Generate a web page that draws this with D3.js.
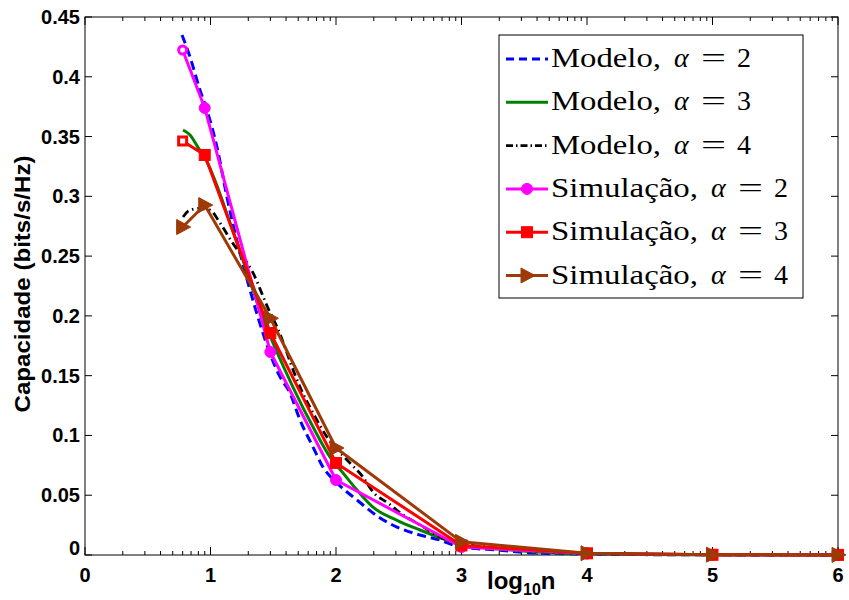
<!DOCTYPE html>
<html><head><meta charset="utf-8">
<script src="https://cdnjs.cloudflare.com/ajax/libs/d3/7.8.5/d3.min.js"></script>
<style>body{margin:0;background:#fff}</style>
</head><body>
<svg id="chart" width="849" height="600"></svg>
<script>
// ---- data (x values are log10 n) ----
const xTickLabels = ["0","1","2","3","4","5","6"];
const yTickLabels = ["0","0.05","0.1","0.15","0.2","0.25","0.3","0.35","0.4","0.45"];

const modelA2X = [0.773,0.837,0.916,0.972,1.052,1.131,1.315,1.554,1.633,1.713,1.817,1.896,2.008,2.167,2.351,2.486,2.669,2.829,2.988,3.307,3.57,4,4.5,5,6];
const modelA2Y = [0.435,0.4165,0.389,0.372,0.341,0.2994,0.2216,0.149,0.1355,0.113,0.0903,0.0736,0.0602,0.046,0.031,0.0234,0.0167,0.0125,0.0067,0.004,0.0017,0.0008,0.0003,0.0001,0];

const modelA3X = [0.781,0.837,0.900,0.956,1.195,1.418,1.657,1.817,1.952,2.056,2.167,2.295,2.486,2.669,2.884,3.012,3.3,3.6,4,4.5,5,6];
const modelA3Y = [0.3555,0.3513,0.341,0.332,0.266,0.198,0.1405,0.107,0.082,0.0686,0.0544,0.040,0.029,0.0209,0.0125,0.0084,0.005,0.0025,0.001,0.0004,0.0002,0];

const modelA4X = [0.781,0.837,0.916,0.996,1.076,1.171,1.339,1.458,1.530,1.713,1.817,1.928,2.088,2.215,2.295,2.414,2.534,2.645,2.829,2.964,3.3,3.6,4,4.5,5,6];
const modelA4Y = [0.2827,0.2886,0.290,0.2886,0.2777,0.2618,0.2359,0.2066,0.1907,0.1405,0.1188,0.0987,0.0795,0.0652,0.0527,0.0435,0.0335,0.0268,0.0151,0.010,0.006,0.003,0.0012,0.0005,0.0002,0];

const simX = [0.778,0.954,1.477,2,3,4,5,6];
const simA2 = [0.4224,0.3739,0.1698,0.0627,0.0067,0.0012,0.0002,0.0001];
const simA3 = [0.3463,0.3346,0.1857,0.0770,0.0080,0.0014,0.0002,0.0001];
const simA4 = [0.2743,0.2927,0.1980,0.0895,0.0110,0.0015,0.0003,0.0001];

const legendLabels = ["Modelo,","Modelo,","Modelo,","Simulação,","Simulação,","Simulação,"];
const legendAlpha = ["2","3","4","2","3","4"];

// ---- layout ----
const svg = d3.select("#chart");
const L=85, R=838, T=17, B=555;
const x = d3.scaleLinear().domain([0,6]).range([L,R]);
const y = d3.scaleLinear().domain([0,0.45]).range([B,T]);

svg.append("rect").attr("x",L).attr("y",T).attr("width",R-L).attr("height",B-T)
  .attr("fill","none").attr("stroke","#000").attr("stroke-width",1);

const minor = [];
for (let d=0; d<6; d++) for (let k=2;k<=9;k++) minor.push(d+Math.log10(k));
const tg = svg.append("g");
xTickLabels.forEach((t,i)=>{
  tg.append("line").attr("x1",x(i)).attr("x2",x(i)).attr("y1",B).attr("y2",B-8).attr("stroke","#000");
  tg.append("line").attr("x1",x(i)).attr("x2",x(i)).attr("y1",T).attr("y2",T+8).attr("stroke","#000");
});
minor.forEach(v=>{
  tg.append("line").attr("x1",x(v)).attr("x2",x(v)).attr("y1",B).attr("y2",B-4).attr("stroke","#000");
  tg.append("line").attr("x1",x(v)).attr("x2",x(v)).attr("y1",T).attr("y2",T+4).attr("stroke","#000");
});
yTickLabels.forEach((t)=>{
  const v=+t;
  tg.append("line").attr("x1",L).attr("x2",L+7).attr("y1",y(v)).attr("y2",y(v)).attr("stroke","#000");
  tg.append("line").attr("x1",R).attr("x2",R-7).attr("y1",y(v)).attr("y2",y(v)).attr("stroke","#000");
});

const tickFont = "'Liberation Sans', Arial, sans-serif";
xTickLabels.forEach((t,i)=>{
  svg.append("text").attr("x",x(i)).attr("y",582).attr("text-anchor","middle")
    .attr("font-family",tickFont).attr("font-weight","bold").attr("font-size",20).text(t);
});
yTickLabels.forEach((t,i)=>{
  svg.append("text").attr("x",80).attr("y",y(+t)+ (i===0?0:7)).attr("text-anchor","end")
    .attr("font-family",tickFont).attr("font-weight","bold").attr("font-size",20).text(t);
});

const xl = svg.append("text").attr("x",487).attr("y",589)
  .attr("font-family",tickFont).attr("font-weight","bold").attr("font-size",24);
xl.append("tspan").text("log");
xl.append("tspan").attr("dy",6).attr("font-size",16).text("10");
xl.append("tspan").attr("dy",-6).text("n");

svg.append("text").attr("transform","translate(30,284) rotate(-90)").attr("text-anchor","middle")
  .attr("font-family",tickFont).attr("font-weight","bold").attr("font-size",22)
  .attr("textLength",257).attr("lengthAdjust","spacingAndGlyphs")
  .text("Capacidade (bits/s/Hz)");

const plot = svg.append("g");
const lineGen = (xs,ys)=> d3.line().x((d,i)=>x(xs[i])).y((d,i)=>y(ys[i]))(ys);
const lineSmooth = (xs,ys)=> d3.line().curve(d3.curveMonotoneX).x((d,i)=>x(xs[i])).y((d,i)=>y(ys[i]))(ys);

const series = [
  {type:"model", xs:modelA2X, ys:modelA2Y, color:"#0000ff", w:3, dash:"9,5"},
  {type:"model", xs:modelA3X, ys:modelA3Y, color:"#008000", w:3, dash:null},
  {type:"model", xs:modelA4X, ys:modelA4Y, color:"#000000", w:2.8, dash:"8,4,1.5,4"},
  {type:"sim", xs:simX, ys:simA2, color:"#ff00ff", w:3, marker:"circle"},
  {type:"sim", xs:simX, ys:simA3, color:"#ff0000", w:3, marker:"square"},
  {type:"sim", xs:simX, ys:simA4, color:"#9e3a06", w:3, marker:"triangle"}
];

function drawMarker(g, kind, cx, cy, color, hollow){
  if(kind==="circle"){
    g.append("circle").attr("cx",cx).attr("cy",cy).attr("r",hollow?4:5.5)
      .attr("fill",hollow?"#fff":color).attr("stroke",color).attr("stroke-width",hollow?3:1);
  } else if(kind==="square"){
    const s = hollow?8:11;
    g.append("rect").attr("x",cx-s/2).attr("y",cy-s/2).attr("width",s).attr("height",s)
      .attr("fill",hollow?"#fff":color).attr("stroke",color).attr("stroke-width",hollow?3:1);
  } else {
    g.append("path").attr("d",`M${cx-6},${cy-7.5}L${cx+8},${cy}L${cx-6},${cy+7.5}Z`)
      .attr("fill",color).attr("stroke",color).attr("stroke-width",1);
  }
}

series.forEach(s=>{
  const p = plot.append("path")
    .attr("d", s.type==="model"? lineSmooth(s.xs,s.ys) : lineGen(s.xs,s.ys))
    .attr("fill","none").attr("stroke",s.color).attr("stroke-width",s.w)
    .attr("stroke-linejoin","round");
  if(s.dash) p.attr("stroke-dasharray",s.dash);
});
series.filter(s=>s.type==="sim").forEach(s=>{
  s.xs.forEach((xv,i)=> drawMarker(plot, s.marker, x(xv), y(s.ys[i]), s.color, i===0 && s.marker!=="triangle"));
});

// legend
const lg = svg.append("g");
lg.append("rect").attr("x",499).attr("y",35).attr("width",304).attr("height",263)
  .attr("fill","#fff").attr("stroke","#000").attr("stroke-width",1);
const serifFont = "'Liberation Serif','DejaVu Serif',serif";
series.forEach((s,i)=>{
  const cy = 59 + i*43.3;
  const l = lg.append("line").attr("x1",506).attr("x2",548).attr("y1",cy).attr("y2",cy)
    .attr("stroke",s.color).attr("stroke-width",s.w);
  if(s.dash) l.attr("stroke-dasharray", s.dash==="9,5"?"8,5":"7,3,1.5,3");
  if(s.type==="sim") drawMarker(lg, s.marker, 527, cy, s.color, false);
  const isSim = s.type==="sim";
  const labW = isSim ? 147 : 110;
  const by = cy + 8;
  lg.append("text").attr("x",551).attr("y",by).attr("font-family",serifFont).attr("font-size",28)
    .attr("textLength",labW).attr("lengthAdjust","spacingAndGlyphs").text(legendLabels[i]);
  const ax = 551 + labW + 13;
  lg.append("text").attr("x",ax).attr("y",by).attr("font-family",serifFont).attr("font-size",28)
    .attr("font-style","italic").text("α");
  lg.append("text").attr("x",ax+27).attr("y",by).attr("font-family",serifFont).attr("font-size",28)
    .attr("textLength",25).attr("lengthAdjust","spacingAndGlyphs").text("=");
  lg.append("text").attr("x",ax+63).attr("y",by).attr("font-family",serifFont).attr("font-size",28).text(legendAlpha[i]);
});
</script>
</body></html>
